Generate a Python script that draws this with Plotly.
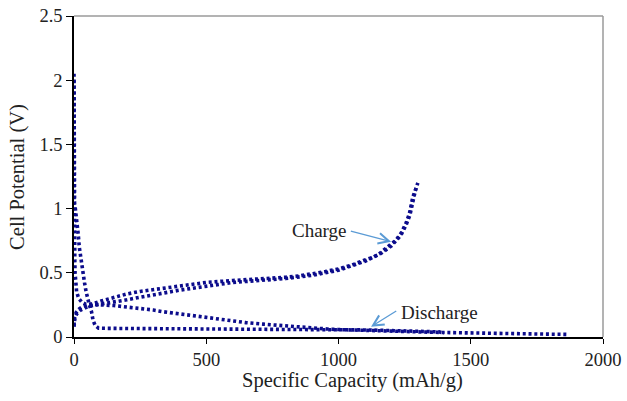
import plotly.graph_objects as go

# ---- data ----
charge_a_x = [0, 2, 8, 20, 35, 55, 80, 110, 150, 200, 250, 300, 350, 400, 450, 500, 600, 700, 800,
              850, 900, 950, 1000, 1050, 1100, 1130, 1155, 1180, 1200, 1218, 1237, 1255, 1268, 1281, 1292, 1300]
charge_a_y = [0.09, 0.15, 0.19, 0.22, 0.24, 0.25, 0.265, 0.285, 0.31, 0.335, 0.355, 0.37, 0.385, 0.40, 0.415, 0.425, 0.44, 0.45, 0.465,
              0.475, 0.49, 0.51, 0.53, 0.56, 0.60, 0.62, 0.65, 0.69, 0.72, 0.755, 0.81, 0.885, 0.96, 1.09, 1.15, 1.20]

charge_b_x = [0, 3, 10, 25, 45, 70, 100, 150, 200, 250, 300, 350, 400, 450, 500, 600, 700, 800,
              900, 1000, 1100, 1160, 1200, 1235, 1255, 1270, 1283, 1295]
charge_b_y = [0.08, 0.14, 0.18, 0.21, 0.23, 0.245, 0.255, 0.27, 0.29, 0.31, 0.33, 0.345, 0.365, 0.38, 0.395, 0.425, 0.44, 0.455,
              0.48, 0.52, 0.59, 0.65, 0.71, 0.79, 0.87, 0.95, 1.07, 1.18]

discharge_1_x = [0, 0, 0, 0, 1, 2, 3, 4, 6, 10, 18, 30, 45, 70, 100, 150, 200, 257, 300, 337, 400, 463, 500,
                 589, 650, 715, 800, 865, 954, 1000, 1100, 1200, 1300, 1400, 1500, 1600, 1700, 1800, 1870]
discharge_1_y = [2.05, 1.6, 1.2, 1.0, 0.85, 0.7, 0.6, 0.5, 0.42, 0.35, 0.30, 0.27, 0.255, 0.25, 0.25, 0.245, 0.235, 0.22, 0.21, 0.197, 0.18, 0.16, 0.15,
                 0.125, 0.112, 0.10, 0.085, 0.075, 0.063, 0.058, 0.05, 0.045, 0.04, 0.035, 0.03, 0.028, 0.025, 0.022, 0.02]

discharge_2_x = [0, 0, 0, 5, 12, 16, 20, 25, 30, 35, 40, 46, 52, 58, 66, 72, 80, 93, 150, 300, 500, 700, 900,
                 1000, 1100, 1200, 1300, 1380, 1400]
discharge_2_y = [2.0, 1.5, 1.05, 1.0, 0.9, 0.8, 0.7, 0.62, 0.56, 0.49, 0.42, 0.35, 0.29, 0.25, 0.2, 0.13, 0.09, 0.068, 0.067, 0.066, 0.065, 0.064, 0.062,
                 0.06, 0.055, 0.05, 0.045, 0.04, 0.03]

x_ticks = [0, 500, 1000, 1500, 2000]
y_ticks = [0, 0.5, 1, 1.5, 2, 2.5]
y_tick_text = ["0", "0.5", "1", "1.5", "2", "2.5"]
x_title = "Specific Capacity (mAh/g)"
y_title = "Cell Potential (V)"

# ---- styling ----
DOT = "rgb(12,12,140)"
FONT = "Liberation Serif, Times New Roman, serif"
TXT = "#222"
line_style = dict(color=DOT, width=3.6, dash="3px,2.8px")

fig = go.Figure()
for xs, ys in [(discharge_1_x, discharge_1_y), (discharge_2_x, discharge_2_y),
               (charge_a_x, charge_a_y), (charge_b_x, charge_b_y)]:
    fig.add_trace(go.Scatter(x=xs, y=ys, mode="lines", line=line_style,
                             showlegend=False, hoverinfo="skip"))

fig.update_layout(
    width=627, height=401,
    margin=dict(l=74, r=24, t=16, b=64, autoexpand=False),
    paper_bgcolor="white", plot_bgcolor="white",
    font=dict(family=FONT, color=TXT, size=18.5),
    xaxis=dict(range=[0, 2000], tickvals=x_ticks, ticktext=[str(v) for v in x_ticks],
               automargin=False,
               showgrid=False, zeroline=False, showline=True, linecolor="black", linewidth=1.5,
               ticks="outside", ticklen=5, tickcolor="black", tickwidth=1.2,
               tickfont=dict(size=18.5, family=FONT, color=TXT)),
    yaxis=dict(range=[0, 2.5], tickvals=y_ticks, ticktext=y_tick_text,
               automargin=False,
               showgrid=False, zeroline=False, showline=True, linecolor="black", linewidth=1.5,
               ticks="outside", ticklen=6, tickcolor="black", tickwidth=1.2,
               tickfont=dict(size=18.5, family=FONT, color=TXT)),
    shapes=[
        dict(type="line", xref="paper", yref="paper", x0=0, y0=1, x1=1, y1=1,
             line=dict(color="#9a9a9a", width=1.5)),
        dict(type="line", xref="paper", yref="paper", x0=1, y0=0, x1=1, y1=1,
             line=dict(color="#9a9a9a", width=1.5)),
    ],
)

# axis titles as paper annotations for precise placement
fig.add_annotation(x=0.526, y=-0.135, xref="paper", yref="paper", xanchor="center", yanchor="middle",
                   text=x_title, showarrow=False, font=dict(size=20.5, family=FONT, color=TXT))
fig.add_annotation(x=-0.107, y=0.5, xref="paper", yref="paper", xanchor="center", yanchor="middle",
                   text=y_title, textangle=-90, showarrow=False, font=dict(size=20.5, family=FONT, color=TXT))

ARROW = "#5b9bd5"
fig.add_annotation(x=1199, y=0.742, ax=1041, ay=0.828, axref="x", ayref="y", xref="x", yref="y",
                   text="", showarrow=True, arrowhead=5, arrowsize=1.6, arrowwidth=1.3, arrowcolor=ARROW)
fig.add_annotation(x=1123, y=0.08, ax=1224, ay=0.21, axref="x", ayref="y", xref="x", yref="y",
                   text="", showarrow=True, arrowhead=5, arrowsize=1.6, arrowwidth=1.3, arrowcolor=ARROW)
fig.add_annotation(x=928, y=0.826, xref="x", yref="y", text="Charge", showarrow=False,
                   font=dict(size=19, family=FONT, color=TXT))
fig.add_annotation(x=1381, y=0.19, xref="x", yref="y", text="Discharge", showarrow=False,
                   font=dict(size=19, family=FONT, color=TXT))

fig.write_html("out.html")
